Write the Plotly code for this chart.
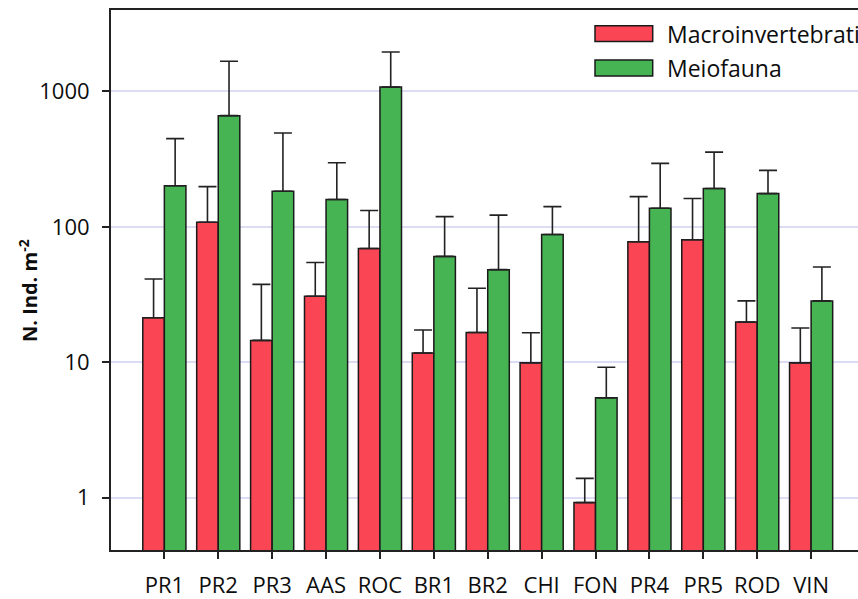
import plotly.graph_objects as go

# Sampling sites
sites = ["PR1", "PR2", "PR3", "AAS", "ROC", "BR1", "BR2", "CHI", "FON", "PR4", "PR5", "ROD", "VIN"]

# Mean densities (N. Ind. m^-2)
macro_mean = [21.3, 108, 14.5, 30.7, 69.2, 11.7, 16.6, 9.9, 0.92, 77.6, 80.2, 19.8, 9.9]
meio_mean = [201, 662, 183, 159, 1076, 60.5, 48.3, 87.8, 5.46, 137, 192, 176, 28.4]

# Upper ends of the error bars (mean + SD)
macro_upper = [41.2, 198, 37.6, 54.6, 132, 17.3, 35.2, 16.5, 1.39, 167, 162, 28.4, 17.9]
meio_upper = [448, 1670, 493, 297, 1954, 119, 122, 141, 9.19, 294, 356, 261, 50.5]

series_names = ["Macroinvertebrati", "Meiofauna"]
y_ticks = [1, 10, 100, 1000]

RED = "#FA4654"
GREEN = "#47B453"
FONT = "Open Sans"

macro_err = [u - m for u, m in zip(macro_upper, macro_mean)]
meio_err = [u - m for u, m in zip(meio_upper, meio_mean)]

W, H = 858, 599
ML, MR, MT, MB = 111, 0, 10, 47
PW, PH = W - ML - MR, H - MT - MB


def px_x(px):
    """Pixel x in the figure -> paper (plot-area) fraction."""
    return (px - ML) / PW


def px_y(py):
    """Pixel y (from top) in the figure -> paper (plot-area) fraction."""
    return 1 - (py - MT) / PH


fig = go.Figure()

for name, mean, err, color in [
    (series_names[0], macro_mean, macro_err, RED),
    (series_names[1], meio_mean, meio_err, GREEN),
]:
    fig.add_trace(go.Bar(
        x=list(range(len(sites))),
        y=mean,
        name=name,
        marker=dict(color=color, line=dict(color="#1a1a1a", width=1.5)),
        error_y=dict(
            type="data",
            symmetric=False,
            array=err,
            arrayminus=[0] * len(err),
            color="#222222",
            thickness=1.6,
            width=9,
        ),
        showlegend=False,
    ))

fig.update_layout(
    width=W,
    height=H,
    margin=dict(l=ML, r=MR, t=MT, b=MB),
    paper_bgcolor="white",
    plot_bgcolor="white",
    barmode="group",
    bargap=0.2,
    bargroupgap=0,
    font=dict(family=FONT, size=22, color="#0d0d0d"),
    xaxis=dict(
        range=[-0.99, 12.87],
        tickmode="array",
        tickvals=list(range(len(sites))),
        ticktext=sites,
        ticks="outside",
        ticklen=7,
        tickwidth=1.5,
        tickcolor="#222222",
        showline=True,
        linecolor="#222222",
        linewidth=2,
        mirror=True,
        showgrid=False,
        zeroline=False,
        ticklabelstandoff=8,
        tickfont=dict(family=FONT, size=22),
    ),
    yaxis=dict(
        type="log",
        range=[-0.386, 3.601],
        tickmode="array",
        tickvals=y_ticks,
        ticktext=[str(v) for v in y_ticks],
        ticks="outside",
        ticklen=7,
        tickwidth=1.5,
        tickcolor="#222222",
        showline=True,
        linecolor="#222222",
        linewidth=2,
        mirror=False,
        showgrid=True,
        gridcolor="#DCDCF4",
        gridwidth=1.5,
        zeroline=False,
        ticklabelstandoff=8,
        tickfont=dict(family=FONT, size=22),
    ),
)

# Y-axis title
fig.add_annotation(
    x=px_x(29), y=px_y(292), xref="paper", yref="paper",
    text="<b>N. Ind. m<sup>-2</sup></b>",
    textangle=-90, showarrow=False,
    font=dict(family=FONT, size=20, color="#0d0d0d"),
    xanchor="center", yanchor="middle",
)

# Legend drawn as swatches and labels
legend_rows = [(series_names[0], RED, 33.7), (series_names[1], GREEN, 68.3)]
for label, color, yc in legend_rows:
    fig.add_shape(
        type="rect", xref="paper", yref="paper",
        x0=px_x(595), x1=px_x(652.7),
        y0=px_y(yc + 8), y1=px_y(yc - 8),
        fillcolor=color, line=dict(color="#1a1a1a", width=1.5),
    )
    fig.add_annotation(
        x=px_x(665), y=px_y(yc), xref="paper", yref="paper",
        text=label, showarrow=False,
        font=dict(family=FONT, size=23, color="#0d0d0d"),
        xanchor="left", yanchor="middle",
    )

fig.write_html("out.html")
